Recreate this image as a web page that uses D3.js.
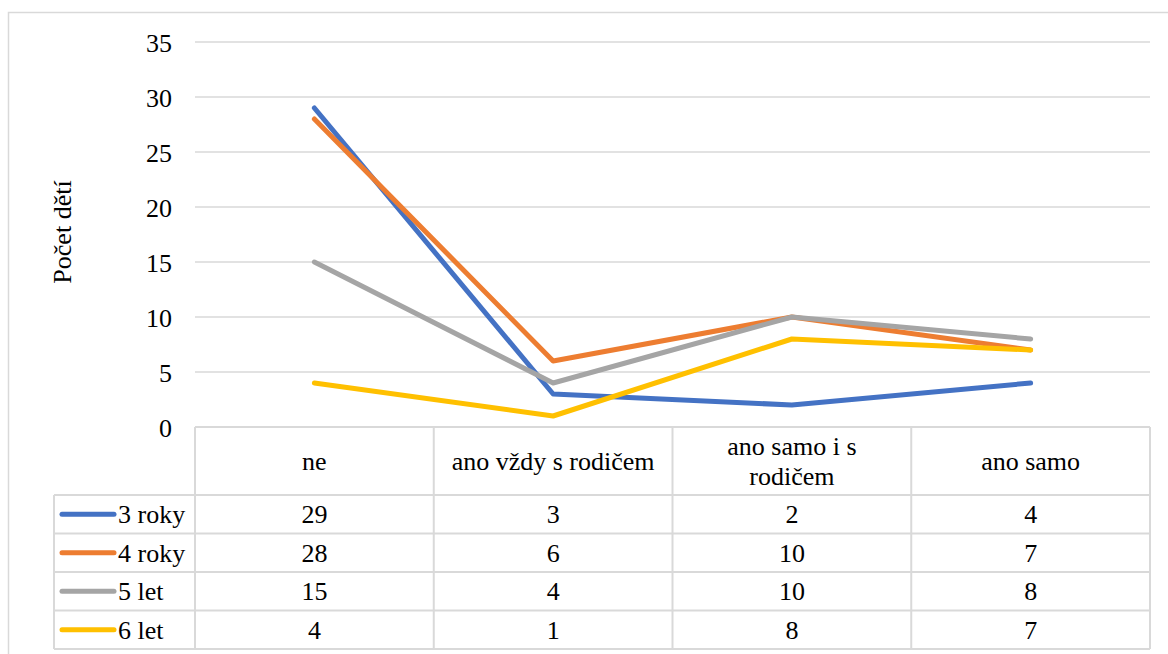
<!DOCTYPE html>
<html>
<head>
<meta charset="utf-8">
<script src="https://d3js.org/d3.v7.min.js"></script>
<style>
  body { margin: 0; background: #fff; }
  svg text { font-family: "Liberation Serif", "Times New Roman", Times, "DejaVu Serif", serif; fill: #000; }
</style>
</head>
<body>
<div id="chart"></div>
<script>
var categories = ["ne", "ano vždy s rodičem", "ano samo i s rodičem", "ano samo"];
var categoryLines = [["ne"], ["ano vždy s rodičem"], ["ano samo i s", "rodičem"], ["ano samo"]];
var seriesNames = ["3 roky", "4 roky", "5 let", "6 let"];
var values3 = [29, 3, 2, 4];
var values4 = [28, 6, 10, 7];
var values5 = [15, 4, 10, 8];
var values6 = [4, 1, 8, 7];
var yTicks = [0, 5, 10, 15, 20, 25, 30, 35];
var colors = ["#4472C4", "#ED7D31", "#A5A5A5", "#FFC000"];

var series = [values3, values4, values5, values6];

var W = 1168, H = 654;
var plotLeft = 195, plotRight = 1150, plotTop = 42, plotBottom = 427;
var headerH = 68, rowH = 38.5, legendLeft = 54;
var grid = "#d9d9d9";
var fontStack = "'Liberation Serif', 'Times New Roman', Times, 'DejaVu Serif', serif";

var svg = d3.select("#chart").append("svg")
  .attr("width", W).attr("height", H)
  .style("font-family", fontStack);

// outer chart border
svg.append("rect")
  .attr("x", 8.5).attr("y", 12.5)
  .attr("width", W + 20).attr("height", H + 20)
  .attr("fill", "none").attr("stroke", grid).attr("stroke-width", 1.5);

var x = d3.scaleBand().domain(categories).range([plotLeft, plotRight]);
var y = d3.scaleLinear().domain([0, 35]).range([plotBottom, plotTop]);

// gridlines
svg.append("g").selectAll("line").data(yTicks.filter(function(d) { return d > 0; }))
  .enter().append("line")
  .attr("x1", plotLeft).attr("x2", plotRight)
  .attr("y1", function(d) { return y(d); }).attr("y2", function(d) { return y(d); })
  .attr("stroke", grid).attr("stroke-width", 1.5);

// y axis labels
var yAxis = d3.axisLeft(y).tickValues(yTicks).tickSize(0).tickPadding(0);
var yg = svg.append("g").attr("transform", "translate(172,0)").call(yAxis)
  .attr("font-family", null).attr("font-size", null);
yg.select(".domain").remove();
yg.selectAll("text").style("font-family", fontStack).attr("font-size", 26)
  .attr("dy", "0.35em").attr("fill", "#000");

// y axis title
svg.append("text")
  .attr("transform", "translate(71,232) rotate(-90)")
  .attr("text-anchor", "middle")
  .attr("font-size", 26)
  .text("Počet dětí");

// data table
var tableBottom = plotBottom + headerH + rowH * series.length;
var t = svg.append("g").attr("stroke", grid).attr("stroke-width", 2);
t.append("line").attr("x1", plotLeft).attr("x2", plotRight).attr("y1", plotBottom).attr("y2", plotBottom);
for (var r = 0; r <= series.length; r++) {
  var yy = plotBottom + headerH + r * rowH;
  t.append("line").attr("x1", legendLeft).attr("x2", plotRight).attr("y1", yy).attr("y2", yy);
}
t.append("line").attr("x1", legendLeft).attr("x2", legendLeft)
  .attr("y1", plotBottom + headerH).attr("y2", tableBottom);
categories.forEach(function(c, i) {
  var xx = x(c);
  t.append("line").attr("x1", xx).attr("x2", xx).attr("y1", plotBottom).attr("y2", tableBottom);
});
t.append("line").attr("x1", plotRight).attr("x2", plotRight).attr("y1", plotBottom).attr("y2", tableBottom);

// header labels
categories.forEach(function(c, i) {
  var lines = categoryLines[i];
  var cx = x(c) + x.bandwidth() / 2;
  var cy = plotBottom + headerH / 2;
  var txt = svg.append("text").attr("text-anchor", "middle").attr("font-size", 26);
  lines.forEach(function(l, j) {
    txt.append("tspan").attr("x", cx)
      .attr("y", cy + (j - (lines.length - 1) / 2) * 30)
      .attr("dy", "0.35em").text(l);
  });
});

// rows
series.forEach(function(vals, s) {
  var cy = plotBottom + headerH + s * rowH + rowH / 2;
  svg.append("line").attr("x1", 62).attr("x2", 114).attr("y1", cy).attr("y2", cy)
    .attr("stroke", colors[s]).attr("stroke-width", 5).attr("stroke-linecap", "round");
  svg.append("text").attr("x", 118).attr("y", cy).attr("dy", "0.35em")
    .attr("font-size", 26).text(seriesNames[s]);
  vals.forEach(function(v, i) {
    svg.append("text").attr("x", x(categories[i]) + x.bandwidth() / 2).attr("y", cy)
      .attr("dy", "0.35em").attr("text-anchor", "middle").attr("font-size", 26).text(v);
  });
});

// lines
var line = d3.line()
  .x(function(d, i) { return x(categories[i]) + x.bandwidth() / 2; })
  .y(function(d) { return y(d); });
series.forEach(function(vals, s) {
  svg.append("path").datum(vals)
    .attr("fill", "none").attr("stroke", colors[s]).attr("stroke-width", 5)
    .attr("stroke-linecap", "round").attr("stroke-linejoin", "round")
    .attr("d", line);
});
</script>
</body>
</html>
